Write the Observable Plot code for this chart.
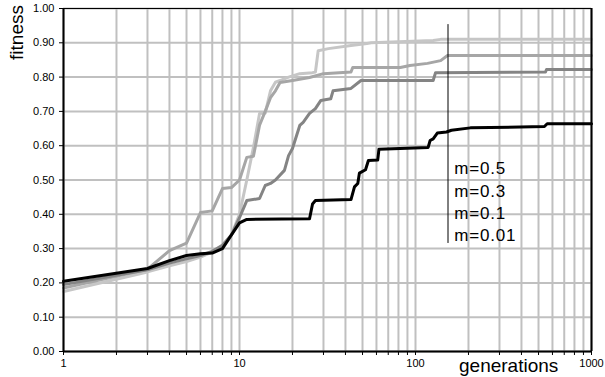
<!DOCTYPE html>
<html><head><meta charset="utf-8">
<script src="https://cdn.jsdelivr.net/npm/d3@7"></script>
<script src="https://cdn.jsdelivr.net/npm/@observablehq/plot@0.6"></script>
<style>
body{margin:0;background:#fff}
svg{font-family:"Liberation Sans",Arial,sans-serif}
</style>
</head><body><div id="chart"></div>
<script>
// ---- data ----
const seriesNames = ["m=0.5","m=0.3","m=0.1","m=0.01"];
const seriesColors = ["#c6c6c6","#a6a6a6","#848484","#000000"];

const gen_m05 = [1,3,4,5,6,7,8,9,10,11,12,13,14,15,16,17,19,22,26,27,28,32,43,53,56,126,139,1000];
const fit_m05 = [0.175,0.232,0.25,0.262,0.275,0.29,0.31,0.34,0.40,0.50,0.595,0.694,0.695,0.76,0.785,0.79,0.80,0.81,0.813,0.815,0.877,0.883,0.892,0.898,0.90,0.907,0.91,0.91];

const gen_m03 = [1,3,4,5,6,7,8,9,10,11,12,13,14,15,16,17,20,25,30,35,43,44,82,93,117,139,152,1000];
const fit_m03 = [0.185,0.24,0.294,0.316,0.405,0.41,0.475,0.478,0.5,0.566,0.569,0.66,0.70,0.74,0.76,0.784,0.79,0.799,0.81,0.812,0.815,0.828,0.828,0.834,0.84,0.848,0.863,0.863];

const gen_m01 = [1,3,4,5,6,7,8,9,10,11,13,14,15,16,18,19,20,22,23,25,27,29,33,34,43,49,126,130,548,555,1000];
const fit_m01 = [0.195,0.238,0.258,0.27,0.28,0.292,0.31,0.34,0.39,0.44,0.446,0.484,0.49,0.5,0.528,0.571,0.592,0.659,0.668,0.694,0.708,0.732,0.737,0.76,0.767,0.79,0.79,0.813,0.815,0.822,0.822];

const gen_m001 = [1,3,4,5,6,7,8,9,10,11,25,26,27,43,45,47,48,52,54,61,62,118,121,126,133,150,160,205,540,560,1000];
const fit_m001 = [0.205,0.242,0.265,0.28,0.285,0.287,0.30,0.34,0.375,0.385,0.387,0.43,0.44,0.443,0.48,0.49,0.52,0.53,0.557,0.558,0.59,0.595,0.615,0.62,0.637,0.64,0.645,0.652,0.656,0.664,0.664];

const xTicks = [1,2,3,4,5,6,7,8,9,10,20,30,40,50,60,70,80,90,100,200,300,400,500,600,700,800,900,1000];
const xLabels = [1,10,100,1000];
const yTicks = [0,0.1,0.2,0.3,0.4,0.5,0.6,0.7,0.8,0.9,1.0];

const legendLabels = ["m=0.5","m=0.3","m=0.1","m=0.01"];
const legendLineGen = 153;
const legendTextGen = 166;
const legendLineTop = 0.953, legendLineBottom = 0.315;
const legendFirstY = 0.532, legendStep = 0.0647;

// ---- build table ----
const gens = [gen_m05, gen_m03, gen_m01, gen_m001];
const fits = [fit_m05, fit_m03, fit_m01, fit_m001];
const rows = [];
seriesNames.forEach((s, k) => gens[k].forEach((g, i) => rows.push({series: s, gen: g, fit: fits[k][i]})));

const plot = Plot.plot({
  width: 605, height: 377,
  marginLeft: 63, marginRight: 14, marginTop: 8, marginBottom: 26,
  style: {fontFamily: '"Liberation Sans",Arial,sans-serif', fontSize: "11px", color: "black", background: "white"},
  x: {type: "log", domain: [1, 1000]},
  y: {domain: [0, 1]},
  color: {domain: seriesNames, range: seriesColors},
  marks: [
    Plot.gridX(xTicks, {stroke: "#c0c0c0", strokeOpacity: 1, strokeWidth: 2}),
    Plot.gridY(yTicks, {stroke: "#c0c0c0", strokeOpacity: 1, strokeWidth: 2}),
    Plot.line(rows, {x: "gen", y: "fit", z: "series", stroke: "series", strokeWidth: 3, strokeLinejoin: "round"}),
    Plot.ruleX([legendLineGen], {y1: () => legendLineTop, y2: () => legendLineBottom, stroke: "black", strokeWidth: 1}),
    Plot.text(legendLabels, {x: () => legendTextGen, y: (d, i) => legendFirstY - i * legendStep, text: d => d,
      textAnchor: "start", fontSize: 17, fill: "black"}),
    Plot.axisX(xTicks, {tickSize: 4, tickPadding: 4, tickFormat: d => xLabels.includes(d) ? String(d) : "", label: null, fontSize: 11}),
    Plot.axisY(yTicks, {tickSize: 4, tickPadding: 5, tickFormat: d3.format(".2f"), label: null, fontSize: 11}),
    Plot.ruleY([1], {stroke: "black", strokeWidth: 1}),
    Plot.ruleY([0], {stroke: "black", strokeWidth: 2}),
    Plot.ruleX([1], {stroke: "black", strokeWidth: 2}),
    Plot.ruleX([1000], {stroke: "black", strokeWidth: 2})
  ]
});

const svg = d3.select(plot);
svg.append("text").attr("transform", "translate(23,5) rotate(-90)")
  .attr("text-anchor", "end").attr("font-size", 19).attr("fill", "black").text("fitness");
svg.append("text").attr("x", 459).attr("y", 372)
  .attr("text-anchor", "start").attr("font-size", 19).attr("fill", "black").text("generations");
svg.selectAll('g[aria-label="text"] text').style("letter-spacing", "0.8px");

document.getElementById("chart").appendChild(plot);
</script>
</body></html>
